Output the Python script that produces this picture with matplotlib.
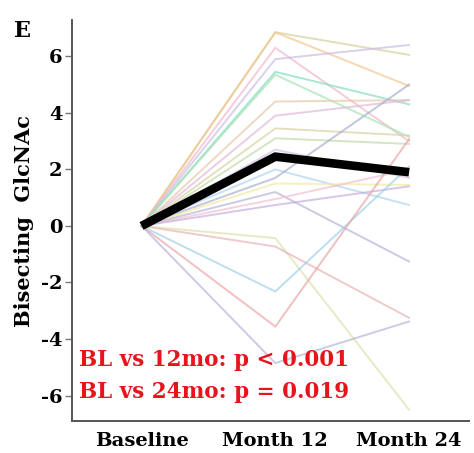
import matplotlib
matplotlib.use("Agg")
import matplotlib.pyplot as plt

# Time points
timepoints = ["Baseline", "Month 12", "Month 24"]

# Change from baseline for each subject (baseline is 0 for everyone)
month12 = [6.85, 6.85, 6.30, 5.90, 5.45, 5.35, 4.40, 3.90, 3.45, 3.10,
           2.70, 2.00, 1.70, 1.50, 1.20, 0.95, 0.74, -0.43, -0.73, -2.32,
           -3.56, -4.85]
month24 = [6.05, 4.95, 3.00, 6.40, 4.30, 3.15, 4.45, 4.45, 3.20, 2.90,
           1.70, 0.74, 5.00, 1.45, -1.26, 2.00, 1.40, -6.50, -3.25, 2.10,
           3.07, -3.38]
colors = ["#d6cf9a", "#f2c690", "#f0b8c8", "#cbbde3", "#86dcc4", "#a6e4b4",
          "#e8c8a8", "#e0b8da", "#d8d2a2", "#c2daa8", "#d8c0e0", "#b0d4ee",
          "#a8aed0", "#f2eaa0", "#b4b4dc", "#f0c0d0", "#c6aedc", "#dbe2ac",
          "#e8b4b4", "#9fd0ea", "#e8a6a6", "#bab2da"]

# Group mean trajectory
mean_change = [0.0, 2.45, 1.90]

stats_lines = ["BL vs 12mo: p < 0.001", "BL vs 24mo: p = 0.019"]

plt.rcParams["font.family"] = ["DejaVu Serif"]
plt.rcParams["axes.unicode_minus"] = False

fig = plt.figure(figsize=(4.74, 4.53), dpi=100)
ax = fig.add_axes([0.152, 0.0706, 0.838, 0.885])

x = range(len(timepoints))
for m12, m24, c in zip(month12, month24, colors):
    ax.plot(x, [0.0, m12, m24], color=c, lw=1.4, alpha=0.7,
            solid_joinstyle="miter", zorder=2)

ax.plot(x, mean_change, color="black", lw=6.2, solid_joinstyle="miter",
        solid_capstyle="butt", zorder=3)

ax.set_xlim(-0.52, 2.45)
ax.set_ylim(-6.9, 7.28)
ax.set_yticks([-6, -4, -2, 0, 2, 4, 6])
ax.set_xticks(list(x))
ax.set_xticklabels(timepoints)

for s in ["top", "right"]:
    ax.spines[s].set_visible(False)
for s in ["left", "bottom"]:
    ax.spines[s].set_color("#555555")
    ax.spines[s].set_linewidth(1.4)

ax.tick_params(axis="y", direction="out", length=5, width=1.0,
               color="#777777", pad=2)
ax.tick_params(axis="x", length=0, pad=8)
for lab in ax.get_yticklabels():
    lab.set_fontweight("bold")
    lab.set_fontsize(14)
for lab in ax.get_xticklabels():
    lab.set_fontweight("bold")
    lab.set_fontsize(14)

ax.set_ylabel("Bisecting  GlcNAc", fontsize=15, fontweight="bold",
              labelpad=5)

fig.text(0.03, 0.918, "E", fontsize=16, fontweight="bold")

for i, line in enumerate(stats_lines):
    ax.text(0.018, 0.152 - i * 0.08, line, transform=ax.transAxes,
            color="#e8141c", fontsize=15.5, fontweight="bold",
            ha="left", va="center")

fig.savefig("out.png", dpi=100)
